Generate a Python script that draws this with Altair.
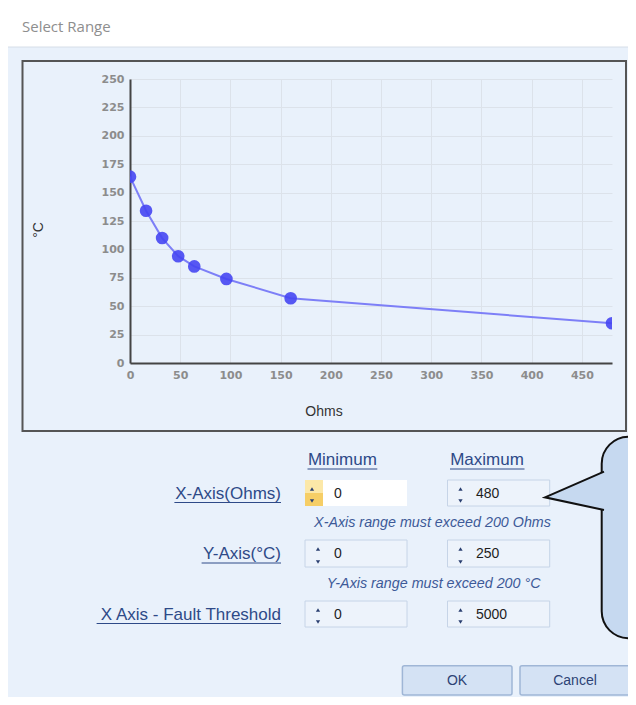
import altair as alt
import pandas as pd

# ---- data ----
ohms = [0, 16, 32, 48, 64, 96, 160, 480]
temps = [164, 134, 110, 94, 85, 74, 57, 35]
x_ticks = [0, 50, 100, 150, 200, 250, 300, 350, 400, 450]
y_ticks = [0, 25, 50, 75, 100, 125, 150, 175, 200, 225, 250]
x_range = [0, 480]
y_range = [0, 250]

dialog_title = "Select Range"
x_title = "Ohms"
y_title = "°C"
col_headers = ["Minimum", "Maximum"]
row_labels = ["X-Axis(Ohms)", "Y-Axis(°C)", "X Axis - Fault Threshold"]
row_min = ["0", "0", "0"]
row_max = ["480", "250", "5000"]
hints = ["X-Axis range must exceed 200 Ohms", "Y-Axis range must exceed 200 °C"]
buttons = ["OK", "Cancel"]

df = pd.DataFrame({"ohms": ohms, "temp": temps})

# ---- layout (page pixels) ----
OX, OY = 130, 79          # plot origin on the page
W, H = 482, 284           # plot area
PAD = {"left": OX - 8, "top": OY - 8, "right": 620 - (OX - 8) - W, "bottom": 689 - (OY - 8) - H}

ONE = alt.Data(values=[{"k": 0}])
BG = "#E9F1FB"
LINK = "#2E4A88"
UI_FONT = "Liberation Sans"


def px(x):
    return x - OX


def py(y):
    return y - OY


def rect(x1, y1, x2, y2, fill, stroke=None, sw=1, r=0):
    kw = {"fill": fill}
    if stroke:
        kw.update(stroke=stroke, strokeWidth=sw)
    if r:
        kw["cornerRadius"] = r
    return alt.Chart(ONE).mark_rect(**kw).encode(
        x=alt.value(px(x1)), x2=alt.value(px(x2)),
        y=alt.value(py(y1)), y2=alt.value(py(y2)))


def text(s, x, y, size=14, color="#222222", align="left", font=UI_FONT,
         style="normal", angle=0):
    kw = dict(text=s, align=align, baseline="middle", fontSize=size, color=color,
              font=font, fontStyle=style)
    if angle:
        kw["angle"] = angle
    return alt.Chart(ONE).mark_text(**kw).encode(x=alt.value(px(x)), y=alt.value(py(y)))


def hline(x1, x2, y, color, w=1):
    return alt.Chart(ONE).mark_rule(color=color, strokeWidth=w).encode(
        x=alt.value(px(x1)), x2=alt.value(px(x2)), y=alt.value(py(y)))


def arrow(x, y, up=True, color="#2A3F70"):
    return alt.Chart(ONE).mark_point(
        shape="triangle-up" if up else "triangle-down", filled=True, fill=color,
        opacity=1, size=18).encode(x=alt.value(px(x)), y=alt.value(py(y)))


layers = []
# title bar
layers.append(rect(0, 0, 700, 47, "#FFFFFF"))
layers.append(hline(0, 700, 47, "#D6DEE8"))
layers.append(text(dialog_title, 22, 27, size=15, color="#8E8E8E", font="Open Sans"))
# chart frame (no fill, so the axes drawn underneath stay visible)
layers.append(rect(22.5, 61, 626, 431, "transparent", stroke="#555555", sw=2))

# ---- the chart itself ----
xs = alt.Scale(domain=x_range, nice=False, zero=True)
ys = alt.Scale(domain=y_range, nice=False, zero=True)
axis_common = dict(grid=True, gridColor="#DCE2EA", gridWidth=1, domainColor="#444444",
                   domainWidth=2, ticks=False, labelColor="#8C8C8C", labelFont="DejaVu Sans",
                   labelFontWeight="bold", labelFontSize=11, labelPadding=6,
                   labelFlush=False, labelOverlap=False)

base = alt.Chart(df).encode(
    x=alt.X("ohms:Q", scale=xs, axis=alt.Axis(values=x_ticks, **axis_common), title=None),
    y=alt.Y("temp:Q", scale=ys, axis=alt.Axis(values=y_ticks, **axis_common), title=None),
)
layers.append(base.mark_line(color="#7D7FF7", strokeWidth=2, interpolate="linear", clip=True))
layers.append(base.mark_circle(color="#4646F2", opacity=0.9, size=160, clip=True))

layers.append(text(x_title, 324, 412, size=14, color="#333333", align="center"))
layers.append(text(y_title, 39, 230, size=14, color="#333333", align="center", angle=270))

# ---- form ----
layers.append(text(col_headers[0], 342.4, 460, size=17, color=LINK, align="center"))
layers.append(hline(307.5, 377.3, 469, LINK))
layers.append(text(col_headers[1], 487, 460, size=17, color=LINK, align="center"))
layers.append(hline(450, 524.5, 469, LINK))

rows_y = [(480, 506), (540, 567), (601, 627)]
label_left = [174.4, 201.6, 96.6]
for i, (y1, y2) in enumerate(rows_y):
    yc = (y1 + y2) / 2
    layers.append(text(row_labels[i], 281, yc + 0.5, size=17, color=LINK, align="right"))
    layers.append(hline(label_left[i], 281, yc + 9.5, LINK))
    # min box
    if i == 0:
        layers.append(rect(305, y1, 323, yc, "#FCE8A8"))
        layers.append(rect(305, yc, 323, y2, "#F6CE66"))
        layers.append(rect(323, y1, 407, y2, "#FFFFFF"))
        layers.append(arrow(312, y1 + 9))
        layers.append(arrow(312, y2 - 5, up=False))
    else:
        layers.append(rect(305, y1, 407, y2, "#EDF3FB", stroke="#C6D4E7"))
        layers.append(arrow(318, y1 + 9))
        layers.append(arrow(318, y2 - 5, up=False))
    layers.append(text(row_min[i], 334, yc + 0.5, size=14, color="#1E1E1E"))
    # max box
    layers.append(rect(447.5, y1, 549.7, y2, "#EDF3FB", stroke="#C6D4E7"))
    layers.append(arrow(460.5, y1 + 9))
    layers.append(arrow(460.5, y2 - 5, up=False))
    layers.append(text(row_max[i], 476, yc + 0.5, size=14, color="#1E1E1E"))

layers.append(text(hints[0], 432.5, 523, size=14.3, color="#3D5A98", align="center", style="italic"))
layers.append(text(hints[1], 433.7, 584, size=14.3, color="#3D5A98", align="center", style="italic"))

# buttons
layers.append(rect(402.4, 665.7, 512, 695, "#D4E2F4", stroke="#9FB6D6", sw=1.5, r=2))
layers.append(text(buttons[0], 457, 681, size=14, color="#2D4275", align="center"))
layers.append(rect(520, 665.7, 629.6, 695, "#D4E2F4", stroke="#9FB6D6", sw=1.5, r=2))
layers.append(text(buttons[1], 575, 681, size=14, color="#2D4275", align="center"))

# callout bubble
layers.append(rect(601.7, 436.7, 700, 638.3, "#C6D9F0", stroke="#111111", sw=2, r=27))
layers.append(alt.Chart(ONE).mark_point(
    shape="M 1 -0.654 L -1 0.214 L 1 0.644", filled=True, fill="#C6D9F0",
    stroke="#111111", strokeWidth=2, opacity=1, size=3481).encode(
    x=alt.value(px(574.5)), y=alt.value(py(491))))

chart = alt.layer(*layers).properties(
    width=W, height=H, padding=PAD,
    autosize=alt.AutoSizeParams(type="none"),
).configure(background=BG).configure_view(strokeWidth=0)

chart.save("out.html", embed_options={"renderer": "svg", "actions": False})
